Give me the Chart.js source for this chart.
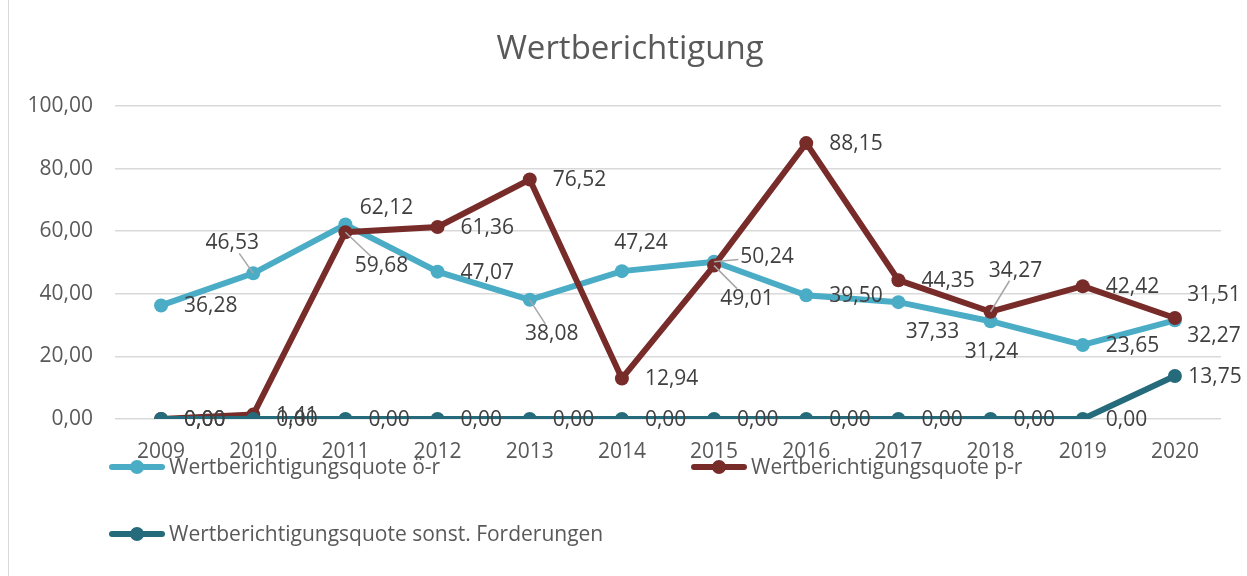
<!DOCTYPE html>
<html>
<head>
<meta charset="utf-8">
<script src="https://cdn.jsdelivr.net/npm/chart.js@4/dist/chart.umd.min.js"></script>
<style>
  html, body { margin: 0; padding: 0; background: #fff; }
  #wrap { position: relative; width: 1247px; height: 576px; }
  #frame { position: absolute; left: 8px; top: 0; width: 1px; height: 576px; background: #d9d9d9; }
  canvas { position: absolute; left: 0; top: 0; }
</style>
</head>
<body>
<div id="wrap">
  <div id="frame"></div>
  <canvas id="chart" width="1247" height="576"></canvas>
</div>
<script>
// Data
const years = ['2009', '2010', '2011', '2012', '2013', '2014', '2015', '2016', '2017', '2018', '2019', '2020'];
const quoteOeR = [36.28, 46.53, 62.12, 47.07, 38.08, 47.24, 50.24, 39.50, 37.33, 31.24, 23.65, 31.51];
const quotePR = [0.00, 1.41, 59.68, 61.36, 76.52, 12.94, 49.01, 88.15, 44.35, 34.27, 42.42, 32.27];
const quoteSonst = [0.00, 0.00, 0.00, 0.00, 0.00, 0.00, 0.00, 0.00, 0.00, 0.00, 0.00, 13.75];
const yTicks = [0, 20, 40, 60, 80, 100];

const seriesNames = [
    'Wertberichtigungsquote ö-r',
    'Wertberichtigungsquote p-r',
    'Wertberichtigungsquote sonst. Forderungen'
];

// label placement: null = right of point, otherwise [dx, dy, leader] to label centre
const placeOeR = [null, [-21, -30, 1], [41, -17], null, [22, 34, 1], [19, -28], [53, -5, 1], null, [34, 30], [1, 31], null, [39, -25]];
const placePR = [null, null, [36, 34, 1], null, null, null, [33, 33, 1], null, null, [25, -41, 1], null, [39, 18]];
const placeSonst = [null, null, null, null, null, null, null, null, null, null, null, [40, 1]];

const FONT = "'Open Sans', sans-serif";
const TEXT = '#595959';
const LABEL = '#404040';

function fmt(v) {
    return v.toFixed(2).replace('.', ',');
}

const labelPlugin = {
    id: 'pointLabels',
    afterDatasetsDraw(chart) {
        const ctx = chart.ctx;
        const places = [placeOeR, placePR, placeSonst];
        ctx.save();
        ctx.font = '21px ' + FONT;
        ctx.fillStyle = LABEL;
        ctx.textBaseline = 'middle';
        chart.data.datasets.forEach((ds, i) => {
            const meta = chart.getDatasetMeta(i);
            meta.data.forEach((pt, j) => {
                const txt = fmt(ds.data[j]);
                const p = places[i][j];
                if (!p) {
                    ctx.textAlign = 'left';
                    ctx.fillText(txt, pt.x + 23, pt.y + 1);
                    return;
                }
                const cx = pt.x + p[0], cy = pt.y + p[1];
                if (p[2]) {
                    const w = ctx.measureText(txt).width / 2 + 2, h = 10;
                    const dx = pt.x - cx, dy = pt.y - cy;
                    const s = Math.min(dx ? w / Math.abs(dx) : 99, dy ? h / Math.abs(dy) : 99);
                    if (s < 1) {
                        ctx.strokeStyle = '#a6a6a6';
                        ctx.lineWidth = 1.5;
                        ctx.beginPath();
                        ctx.moveTo(cx + dx * s, cy + dy * s);
                        ctx.lineTo(pt.x, pt.y);
                        ctx.stroke();
                    }
                }
                ctx.textAlign = 'center';
                ctx.fillText(txt, cx, cy);
            });
        });
        ctx.restore();
    }
};

const legendPlugin = {
    id: 'excelLegend',
    afterDraw(chart) {
        const ctx = chart.ctx;
        const spots = [[109, 467], [691, 467], [109, 534]];
        ctx.save();
        // title
        ctx.font = '33px ' + FONT;
        ctx.fillStyle = TEXT;
        ctx.textAlign = 'center';
        ctx.textBaseline = 'middle';
        ctx.fillText('Wertberichtigung', 630, 50);
        // legend
        ctx.font = '21px ' + FONT;
        ctx.textAlign = 'left';
        chart.data.datasets.forEach((ds, i) => {
            const [x, y] = spots[i];
            ctx.strokeStyle = ds.borderColor;
            ctx.lineWidth = 6;
            ctx.lineCap = 'round';
            ctx.beginPath();
            ctx.moveTo(x + 3, y);
            ctx.lineTo(x + 53, y);
            ctx.stroke();
            ctx.fillStyle = ds.borderColor;
            ctx.beginPath();
            ctx.arc(x + 28, y, 7, 0, Math.PI * 2);
            ctx.fill();
            ctx.fillStyle = TEXT;
            ctx.fillText(ds.label, x + 60, y + 1);
        });
        ctx.restore();
    }
};

function lineSet(label, data, color, order) {
    return {
        label: label,
        data: data,
        borderColor: color,
        backgroundColor: color,
        borderWidth: 6,
        pointRadius: 7,
        pointBorderWidth: 0,
        pointBackgroundColor: color,
        tension: 0,
        order: order
    };
}

new Chart(document.getElementById('chart').getContext('2d'), {
    type: 'line',
    data: {
        labels: years,
        datasets: [
            lineSet(seriesNames[0], quoteOeR, '#4bacc6', 3),
            lineSet(seriesNames[1], quotePR, '#772c2a', 2),
            lineSet(seriesNames[2], quoteSonst, '#256b7c', 1)
        ]
    },
    options: {
        responsive: false,
        animation: false,
        layout: {
            padding: { left: 20, right: 26, top: 106, bottom: 112 }
        },
        plugins: {
            legend: { display: false },
            title: { display: false },
            tooltip: { enabled: false }
        },
        scales: {
            x: {
                offset: true,
                grid: { display: false, drawTicks: false },
                border: { display: false },
                ticks: {
                    color: TEXT,
                    padding: 20,
                    font: { family: FONT, size: 21 }
                },
                afterFit(s) { s.height = 45; }
            },
            y: {
                min: 0,
                max: 100,
                afterBuildTicks(s) { s.ticks = yTicks.map(v => ({ value: v })); },
                grid: { color: '#d9d9d9', lineWidth: 1.5, drawTicks: false },
                border: { display: false },
                ticks: {
                    color: TEXT,
                    padding: 22,
                    font: { family: FONT, size: 21 },
                    callback: v => fmt(v)
                },
                afterFit(s) { s.width = 95; }
            }
        }
    },
    plugins: [labelPlugin, legendPlugin]
});
</script>
</body>
</html>
